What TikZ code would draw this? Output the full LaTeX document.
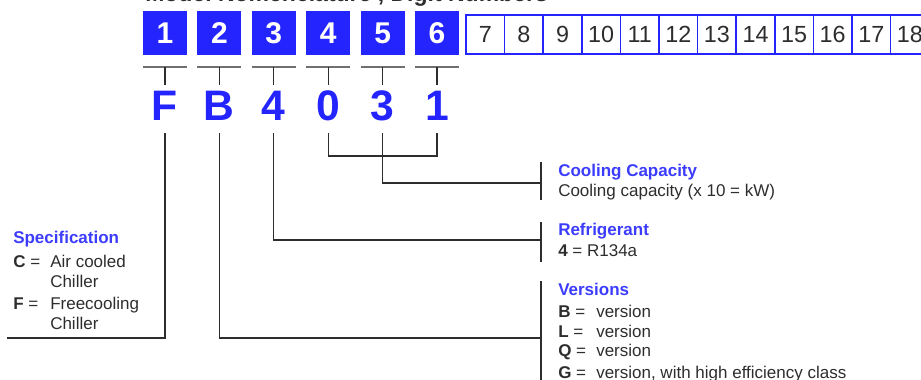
\documentclass[tikz,border=0pt]{standalone}
\usepackage{fontspec}
\setmainfont{Liberation Sans}
\definecolor{boxblue}{RGB}{36,36,255}
\definecolor{headblue}{RGB}{60,60,255}
\definecolor{ink}{RGB}{45,45,45}
\definecolor{bargray}{RGB}{112,112,112}
\begin{document}
\begin{tikzpicture}[x=0.75pt,y=-0.75pt,
  digitbox/.style={fill=boxblue,text=white,minimum width=33pt,minimum height=33pt,
    inner sep=0,outer sep=0,font=\fontsize{22.5}{22.5}\selectfont\bfseries},
  emptybox/.style={draw=boxblue,line width=1.1pt,fill=white,minimum width=28.95pt,
    minimum height=29.25pt,inner sep=0,outer sep=0,text=ink,
    font=\fontsize{17.5}{17.5}\selectfont},
  codeletter/.style={text=boxblue,anchor=base,inner sep=0,outer sep=0,
    font=\fontsize{32}{32}\selectfont\bfseries},
  bracket/.style={draw=bargray,line width=1.6pt},
  tick/.style={draw=ink,line width=1pt},
  conn/.style={draw=ink,line width=1pt},
  groupbar/.style={draw=ink,line width=1.1pt},
  head/.style={text=headblue,anchor=base west,inner sep=0,
    font=\fontsize{12.75}{15}\selectfont\bfseries},
  body/.style={text=ink,anchor=base west,inner sep=0,
    font=\fontsize{12.75}{15}\selectfont}]
\useasboundingbox (0,0) rectangle (921,379);

% heading, mostly above the page edge
\node[anchor=base west,inner sep=0,text=ink,font=\fontsize{17.25}{17.25}\selectfont\bfseries]
  (title) at (145,1.5) {Model Nomenclature , Digit Numbers};

% digit positions 1-6 with the code letters below them
\foreach \i/\c in {1/F,2/B,3/4,4/0,5/3,6/1}{
  \pgfmathsetmacro{\xx}{165+54.4*(\i-1)}
  \node[digitbox] (d\i) at (\xx,33) {\i};
  \draw[bracket] (\xx-22,67) -- (\xx+22,67);
  \draw[tick] (\xx,67) -- (\xx,85);
  \node[codeletter] (L\i) at (\xx,120) {\c};
  \coordinate (s\i) at (\xx,133);
}

% unused digit positions 7-18
\foreach \i [count=\k from 0] in {7,...,18}{
  \node[emptybox] (e\i) at (485.3+38.6*\k,34.5) {\i};
}

% group bars on the right
\coordinate (ccTop) at (541,162); \coordinate (ccBot) at (541,200);
\coordinate (ccMid) at (541,183);
\coordinate (rfTop) at (541,222); \coordinate (rfBot) at (541,262);
\coordinate (rfMid) at (541,240);
\coordinate (vrTop) at (541,281); \coordinate (vrBot) at (541,395);
\coordinate (vrMid) at (541,338);
\coordinate (spEnd) at (7,338);
\draw[groupbar] (ccTop) -- (ccBot);
\draw[groupbar] (rfTop) -- (rfBot);
\draw[groupbar] (vrTop) -- (vrBot);

% connectors
\draw[conn] (s4) |- (s6 |- 0,156) -- (s6);
\draw[conn] (s5) |- (ccMid);
\draw[conn] (s3) |- (rfMid);
\draw[conn] (s2) |- (vrMid);
\draw[conn] (s1) |- (spEnd);

% cooling capacity
\node[head] (ccH) at (558,176) {Cooling Capacity};
\node[body] (ccB) at (558,196) {Cooling capacity (x 10 = kW)};

% refrigerant
\node[head] (rfH) at (558,235) {Refrigerant};
\node[body] (rfB) at (558,256) {\textbf{4} = R134a};

% versions
\node[head] (vrH) at (558,295) {Versions};
\foreach \k/\t/\yy in {B/version/317,L/version/337,Q/version/356,G/{version, with high efficiency class}/378.5}{
  \node[body] (vk\k) at (558,\yy) {\textbf{\k} =};
  \node[body] (vv\k) at (596,\yy) {\t};
}

% specification
\node[head] (spH) at (13,243) {Specification};
\node[body] (spC) at (13,267) {\textbf{C} =};
\node[body] (spCa) at (50,267) {Air cooled};
\node[body] (spCb) at (50,287) {Chiller};
\node[body] (spF) at (13,309) {\textbf{F} =};
\node[body] (spFa) at (50,309) {Freecooling};
\node[body] (spFb) at (50,329) {Chiller};
\end{tikzpicture}
\end{document}
